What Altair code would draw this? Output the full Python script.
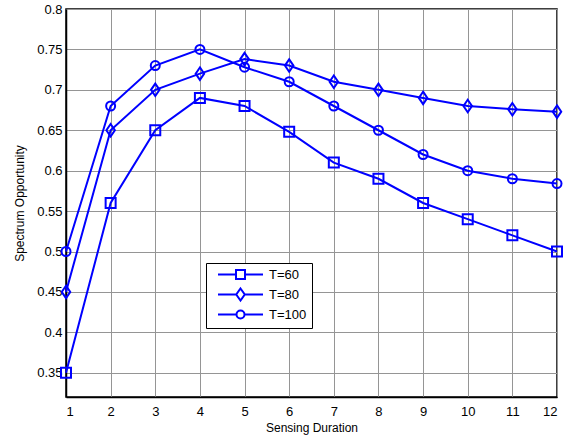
import altair as alt
import pandas as pd

durations = [1, 2, 3, 4, 5, 6, 7, 8, 9, 10, 11, 12]
t60 = [0.35, 0.56, 0.65, 0.69, 0.68, 0.648, 0.61, 0.59, 0.56, 0.54, 0.52, 0.50]
t80 = [0.45, 0.65, 0.70, 0.72, 0.738, 0.73, 0.71, 0.70, 0.69, 0.68, 0.676, 0.673]
t100 = [0.50, 0.68, 0.73, 0.75, 0.728, 0.71, 0.68, 0.65, 0.62, 0.60, 0.59, 0.584]
series = ["T=60", "T=80", "T=100"]
y_ticks = [0.35, 0.4, 0.45, 0.5, 0.55, 0.6, 0.65, 0.7, 0.75, 0.8]

rows = []
for name, vals in zip(series, [t60, t80, t100]):
    for d, v in zip(durations, vals):
        rows.append({"d": d, "v": v, "T": name})
df = pd.DataFrame(rows)

BLUE = "#0000ff"
plot_shapes = [
    "M-1,-1H1V1H-1Z",
    "M0,-1.25L0.85,0L0,1.25L-0.85,0Z",
    "M0.9,0A0.9,0.9,0,1,1,-0.9,0A0.9,0.9,0,1,1,0.9,0Z",
]
legend_shapes = [
    "M-4.5,0H-0.9M0.9,0H4.5M-0.9,-0.9H0.9V0.9H-0.9Z",
    "M-4.5,0H-0.85M0.85,0H4.5M0,-1.2L0.85,0L0,1.2L-0.85,0Z",
    "M-4.5,0H-0.8M0.8,0H4.5M0.8,0A0.8,0.8,0,1,1,-0.8,0A0.8,0.8,0,1,1,0.8,0Z",
]

x_enc = alt.X("d:Q", scale=alt.Scale(domain=[1, 12], nice=False),
              axis=alt.Axis(values=durations, format="d", title="Sensing Duration",
                            labelPadding=4, titlePadding=4))
y_enc = alt.Y("v:Q", scale=alt.Scale(domain=[0.32, 0.8], nice=False, zero=False),
              axis=alt.Axis(values=y_ticks, labelExpr="format(datum.value, '.2~f')",
                            title="Spectrum Opportunity", labelPadding=0, titlePadding=10))

base = alt.Chart(df)

lines = base.mark_line(color=BLUE, strokeWidth=2).encode(
    x=x_enc, y=y_enc, detail="T:N")

points = base.mark_point(color=BLUE, filled=False, strokeWidth=2, size=100, opacity=1).encode(
    x=x_enc, y=y_enc,
    shape=alt.Shape("T:N", scale=alt.Scale(domain=series, range=plot_shapes), legend=None))

legend_layer = base.transform_filter("false").mark_point(
    color=BLUE, filled=False, strokeWidth=2, size=100, opacity=1).encode(
    x=x_enc, y=y_enc,
    shape=alt.Shape("T:N", scale=alt.Scale(domain=series, range=legend_shapes),
                    legend=alt.Legend(title=None, orient="none", legendX=140, legendY=254,
                                      symbolSize=100, symbolStrokeColor=BLUE,
                                      symbolStrokeWidth=2, symbolOffset=23,
                                      labelOffset=22, labelFontSize=13,
                                      labelFont="Liberation Sans", labelColor="black",
                                      padding=5, rowPadding=1,
                                      strokeColor="black", fillColor="white")))

chart = alt.layer(lines, points, legend_layer).resolve_scale(shape="independent").properties(
    width=491, height=388,
    autosize=alt.AutoSizeParams(type="none"),
    padding={"left": 66, "top": 9, "right": 9, "bottom": 41},
    background="white",
).configure_view(stroke="black", strokeWidth=1.5).configure_axis(
    labelFont="Liberation Sans", titleFont="Liberation Sans",
    labelFontSize=13, titleFontSize=12, titleFontWeight="normal",
    labelColor="black", titleColor="black",
    gridColor="#959595", gridWidth=1, gridOpacity=1,
    domainColor="black", domainWidth=1.5, tickColor="black", tickSize=4, tickOpacity=0,
)

chart.save("out.html", embed_options={"renderer": "svg", "actions": False})
